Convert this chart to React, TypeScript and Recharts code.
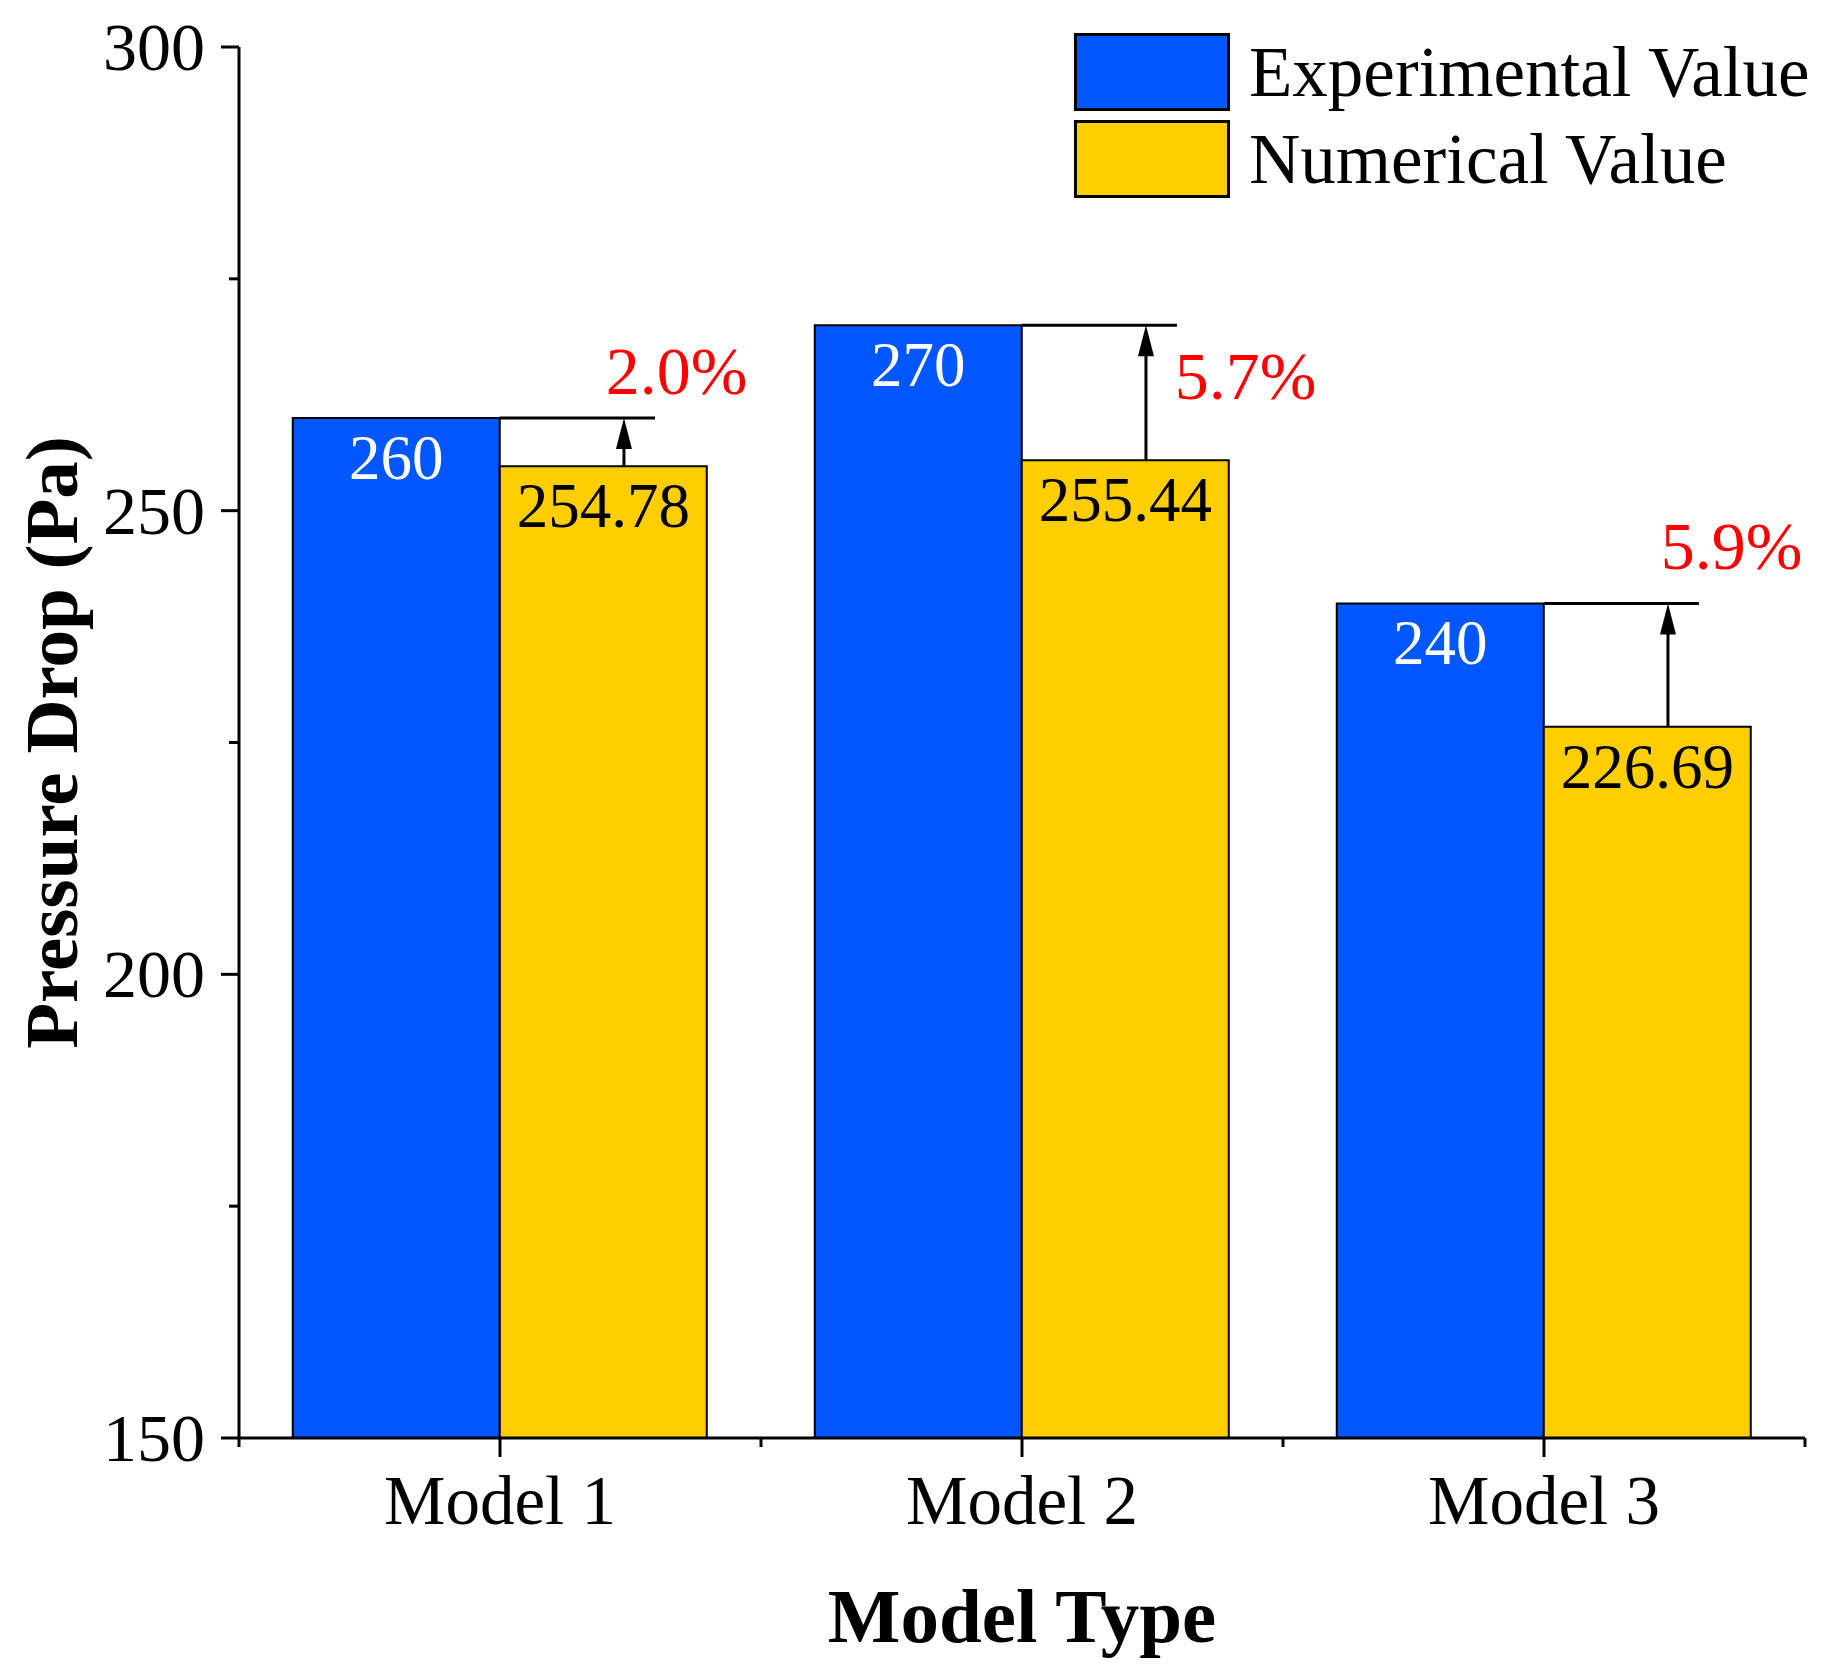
import React from "react";
import { BarChart, Bar, XAxis, YAxis, Legend, LabelList, Label } from "recharts";

const categories = ["Model 1", "Model 2", "Model 3"];
const experimentalValues = [260, 270, 240];
const numericalValues = [254.78, 255.44, 226.69];
const errorLabels = ["2.0%", "5.7%", "5.9%"];
const yTicks = [150, 175, 200, 225, 250, 275, 300];
const yTickLabels = [150, 200, 250, 300];
const yDomain: [number, number] = [150, 300];

const data = categories.map((name, i) => ({
  name,
  experimental: experimentalValues[i],
  numerical: numericalValues[i],
}));

const FONT = '"Liberation Serif", "Times New Roman", serif';
const BLUE = "#0057FF";
const YELLOW = "#FFCE00";
const RED = "#FF0000";

// where each percentage sits, relative to the left end of its comparison line
const errorLabelOffsets = [
  { dx: 106, dy: -24 },
  { dx: 153, dy: 74 },
  { dx: 117, dy: -34 },
];

function rectOf(props: any) {
  const vb = props.viewBox ?? props;
  const x = Number(vb.x);
  const y = Number(vb.y);
  const w = Number(vb.width);
  const h = Number(vb.height);
  return { x, w, top: Math.min(y, y + h), bottom: Math.max(y, y + h) };
}

const YTick = (props: any) => {
  const { x, y, payload } = props;
  const major = yTickLabels.includes(payload.value);
  return (
    <g>
      <line x1={x} x2={x - (major ? 18 : 10)} y1={y} y2={y} stroke="#000" strokeWidth={3} />
      {major && (
        <text x={x - 34} y={y + 23} textAnchor="end" fontFamily={FONT} fontSize={68} fill="#000">
          {payload.value}
        </text>
      )}
    </g>
  );
};

const XTick = (props: any) => {
  const { x, y, payload, index, visibleTicksCount } = props;
  const half = Number(payload?.offset) || 0;
  return (
    <g>
      <line x1={x} x2={x} y1={y} y2={y + 19} stroke="#000" strokeWidth={3} />
      {half > 0 && <line x1={x - half} x2={x - half} y1={y} y2={y + 9} stroke="#000" strokeWidth={3} />}
      {half > 0 && index === visibleTicksCount - 1 && (
        <line x1={x + half} x2={x + half} y1={y} y2={y + 9} stroke="#000" strokeWidth={3} />
      )}
      <text x={x} y={y + 86} textAnchor="middle" fontFamily={FONT} fontSize={69} fill="#000">
        {payload.value}
      </text>
    </g>
  );
};

const XTitle = (props: any) => {
  const vb = props.viewBox;
  return (
    <text x={vb.x + vb.width / 2} y={vb.y + 204} textAnchor="middle" fontFamily={FONT} fontWeight="bold" fontSize={77}>
      Model Type
    </text>
  );
};

const YTitle = (props: any) => {
  const vb = props.viewBox;
  const cx = vb.x + 69;
  const cy = vb.y + vb.height / 2;
  return (
    <text
      x={cx}
      y={cy}
      transform={`rotate(-90, ${cx}, ${cy})`}
      textAnchor="middle"
      fontFamily={FONT}
      fontWeight="bold"
      fontSize={75}
    >
      Pressure Drop (Pa)
    </text>
  );
};

const valueLabel = (color: string) => (props: any) => {
  const r = rectOf(props);
  return (
    <text x={r.x + r.w / 2} y={r.top + 61} textAnchor="middle" fill={color} fontFamily={FONT} fontSize={63}>
      {props.value}
    </text>
  );
};

// line at the experimental height, arrow up from the numerical bar, and the % gap
const Comparison = (props: any) => {
  const i = props.index;
  const r = rectOf(props);
  const perUnit = (r.bottom - r.top) / (Number(props.value) - yDomain[0]);
  const refY = r.bottom - (experimentalValues[i] - yDomain[0]) * perUnit;
  const ax = r.x + r.w * 0.6;
  const off = errorLabelOffsets[i];
  return (
    <g>
      <line x1={r.x} x2={r.x + r.w * 0.75} y1={refY} y2={refY} stroke="#000" strokeWidth={3} />
      <line x1={ax} x2={ax} y1={r.top} y2={refY + 28} stroke="#000" strokeWidth={3} />
      <polygon points={`${ax},${refY} ${ax - 8},${refY + 31} ${ax + 8},${refY + 31}`} fill="#000" />
      <text x={r.x + off.dx} y={refY + off.dy} fill={RED} fontFamily={FONT} fontSize={68}>
        {errorLabels[i]}
      </text>
    </g>
  );
};

const LegendBox = (props: any) => {
  const items = props.payload ?? [];
  return (
    <svg width={753} height={180} style={{ display: "block" }}>
      {items.map((entry: any, i: number) => (
        <g key={entry.value} transform={`translate(0, ${i * 87})`}>
          <rect x={1.5} y={1.5} width={153} height={75} fill={entry.color} stroke="#000" strokeWidth={3} />
          <text x={175} y={63} fontFamily={FONT} fontSize={71} fill="#000">
            {entry.value}
          </text>
        </g>
      ))}
    </svg>
  );
};

export default function App() {
  return (
    <BarChart
      width={1819}
      height={1667}
      data={data}
      margin={{ top: 39, right: 22, bottom: 0, left: 0 }}
      barGap={0}
      barCategoryGap="10.3%"
      style={{ fontFamily: FONT }}
    >
      <XAxis
        dataKey="name"
        height={237}
        interval={0}
        tickSize={0}
        tickMargin={0}
        tickLine={false}
        axisLine={{ stroke: "#000", strokeWidth: 3 }}
        tick={<XTick />}
      >
        <Label content={XTitle} />
      </XAxis>
      <YAxis
        width={231}
        domain={yDomain}
        ticks={yTicks}
        interval={0}
        tickSize={0}
        tickMargin={0}
        tickLine={false}
        axisLine={{ stroke: "#000", strokeWidth: 3 }}
        tick={<YTick />}
      >
        <Label content={YTitle} />
      </YAxis>
      <Legend
        layout="horizontal"
        verticalAlign="middle"
        align="center"
        content={LegendBox}
        wrapperStyle={{ left: 1066, top: 25, width: 753, height: 180, margin: 0 }}
      />
      <Bar dataKey="experimental" name="Experimental Value" fill={BLUE} stroke="#000" strokeWidth={2} isAnimationActive={false}>
        <LabelList dataKey="experimental" content={valueLabel("#FFFFFF")} />
      </Bar>
      <Bar dataKey="numerical" name="Numerical Value" fill={YELLOW} stroke="#000" strokeWidth={2} isAnimationActive={false}>
        <LabelList dataKey="numerical" content={valueLabel("#000000")} />
        <LabelList dataKey="numerical" content={Comparison} />
      </Bar>
    </BarChart>
  );
}
